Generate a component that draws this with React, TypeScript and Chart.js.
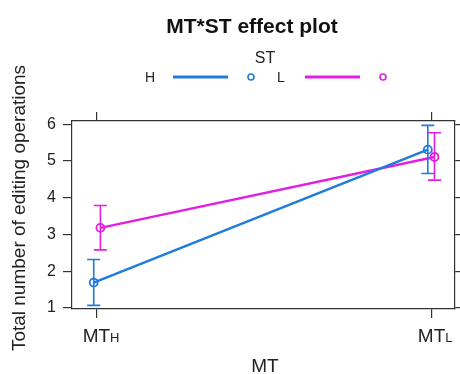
import React, { useEffect, useRef } from "react";
import { Chart, registerables } from "chart.js";

Chart.register(...registerables);

// MT levels (x categories) and ST levels (series)
const mtLevels = ["H", "L"];
const stLevels = ["H", "L"];
const yTicks = [1, 2, 3, 4, 5, 6];

// ST = H
const stHFit = [1.69, 5.31];
const stHLower = [1.07, 4.66];
const stHUpper = [2.32, 5.97];
// ST = L
const stLFit = [3.18, 5.11];
const stLLower = [2.58, 4.48];
const stLUpper = [3.79, 5.77];

const seriesColors = ["#1f7bdc", "#e21fe0"];
const dodge = [-0.01, 0.01];
const FONT = "'Liberation Sans', Arial, Helvetica, sans-serif";
const AXIS = "#333333";

const fits = [stHFit, stLFit];
const lowers = [stHLower, stLLower];
const uppers = [stHUpper, stLUpper];

const decorPlugin = {
  id: "decor",
  afterDatasetsDraw(chart: any) {
    const ctx = chart.ctx;
    const xs = chart.scales.x;
    const ys = chart.scales.y;
    ctx.save();
    // error bars
    for (let s = 0; s < fits.length; s++) {
      ctx.strokeStyle = seriesColors[s];
      ctx.lineWidth = 1.6;
      for (let i = 0; i < mtLevels.length; i++) {
        const px = xs.getPixelForValue(i + 1 + dodge[s]);
        const lo = ys.getPixelForValue(lowers[s][i]);
        const hi = ys.getPixelForValue(uppers[s][i]);
        ctx.beginPath();
        ctx.moveTo(px, lo);
        ctx.lineTo(px, hi);
        ctx.moveTo(px - 6.5, lo);
        ctx.lineTo(px + 6.5, lo);
        ctx.moveTo(px - 6.5, hi);
        ctx.lineTo(px + 6.5, hi);
        ctx.stroke();
      }
    }
    ctx.restore();
  },
  afterDraw(chart: any) {
    const ctx = chart.ctx;
    const xs = chart.scales.x;
    ctx.save();
    ctx.fillStyle = "#111";
    // title
    ctx.font = `bold 21px ${FONT}`;
    ctx.textAlign = "center";
    ctx.textBaseline = "alphabetic";
    ctx.fillText("MT*ST effect plot", 252, 33);
    // legend title
    ctx.fillStyle = "#222";
    ctx.font = `16px ${FONT}`;
    ctx.fillText("ST", 265, 63);
    // legend entries
    const legendX = [145, 277];
    for (let s = 0; s < stLevels.length; s++) {
      const lx = legendX[s];
      ctx.fillStyle = "#222";
      ctx.font = `14px ${FONT}`;
      ctx.textAlign = "left";
      ctx.fillText(stLevels[s], lx, 82);
      ctx.strokeStyle = seriesColors[s];
      ctx.lineWidth = 3;
      ctx.beginPath();
      ctx.moveTo(lx + 28, 77);
      ctx.lineTo(lx + 83, 77);
      ctx.stroke();
      ctx.lineWidth = 1.6;
      ctx.beginPath();
      ctx.arc(lx + 106, 77, 3, 0, Math.PI * 2);
      ctx.stroke();
    }
    // y title
    ctx.fillStyle = "#222";
    ctx.font = `19px ${FONT}`;
    ctx.save();
    ctx.translate(20, 208);
    ctx.rotate(-Math.PI / 2);
    ctx.textAlign = "center";
    ctx.textBaseline = "middle";
    ctx.fillText("Total number of editing operations", 0, 0);
    ctx.restore();
    // x tick labels with subscript
    for (let i = 0; i < mtLevels.length; i++) {
      const px = xs.getPixelForValue(i + 1);
      ctx.font = `19px ${FONT}`;
      const w1 = ctx.measureText("MT").width;
      ctx.font = `13px ${FONT}`;
      const w2 = ctx.measureText(mtLevels[i]).width;
      const start = px + 4 - (w1 + w2) / 2;
      ctx.textAlign = "left";
      ctx.font = `19px ${FONT}`;
      ctx.fillText("MT", start, 342);
      ctx.font = `13px ${FONT}`;
      ctx.fillText(mtLevels[i], start + w1, 342);
    }
    // x title
    ctx.font = `19px ${FONT}`;
    ctx.textAlign = "center";
    ctx.fillText("MT", 265, 372);
    ctx.restore();
  },
};

const tickAxis = (position: string, size: number, isX: boolean, showLabels: boolean) => ({
  type: "linear",
  position,
  min: isX ? 0.925 : 0.97,
  max: isX ? 2.069 : 6.09,
  afterBuildTicks: (s: any) => {
    s.ticks = isX
      ? mtLevels.map((_, i) => ({ value: i + 1 }))
      : yTicks.map((v) => ({ value: v }));
  },
  afterFit: (s: any) => {
    if (isX) s.height = size;
    else s.width = size;
  },
  ticks: {
    display: showLabels,
    color: "#222",
    padding: 7,
    font: { family: FONT, size: 16 },
  },
  grid: {
    drawOnChartArea: false,
    drawTicks: true,
    tickLength: 9,
    color: AXIS,
    lineWidth: 1.2,
  },
  border: { display: true, color: AXIS, width: 1.2 },
});

export default function App() {
  const ref = useRef<HTMLCanvasElement>(null);
  useEffect(() => {
    if (!ref.current) return;
    const datasets = stLevels.map((name, s) => ({
      label: name,
      data: fits[s].map((v, i) => ({ x: i + 1 + dodge[s], y: v })),
      borderColor: seriesColors[s],
      backgroundColor: "rgba(0,0,0,0)",
      borderWidth: 2.4,
      pointRadius: 4,
      pointBorderWidth: 1.8,
      pointBorderColor: seriesColors[s],
      pointBackgroundColor: "rgba(0,0,0,0)",
      tension: 0,
    }));
    const chart = new Chart(ref.current, {
      type: "line",
      data: { datasets },
      options: {
        responsive: false,
        animation: false,
        layout: { padding: 0 },
        plugins: { legend: { display: false }, tooltip: { enabled: false }, title: { display: false } },
        scales: {
          x: tickAxis("bottom", 65, true, false),
          x2: tickAxis("top", 121, true, false),
          y: tickAxis("left", 72, false, true),
          y2: tickAxis("right", 5, false, false),
        } as any,
      },
      plugins: [decorPlugin],
    } as any);
    return () => chart.destroy();
  }, []);
  return (
    <div style={{ position: "fixed", left: 0, top: 0, width: 460, height: 374, background: "#fff" }}>
      <canvas ref={ref} width={460} height={374} style={{ display: "block" }} />
    </div>
  );
}
